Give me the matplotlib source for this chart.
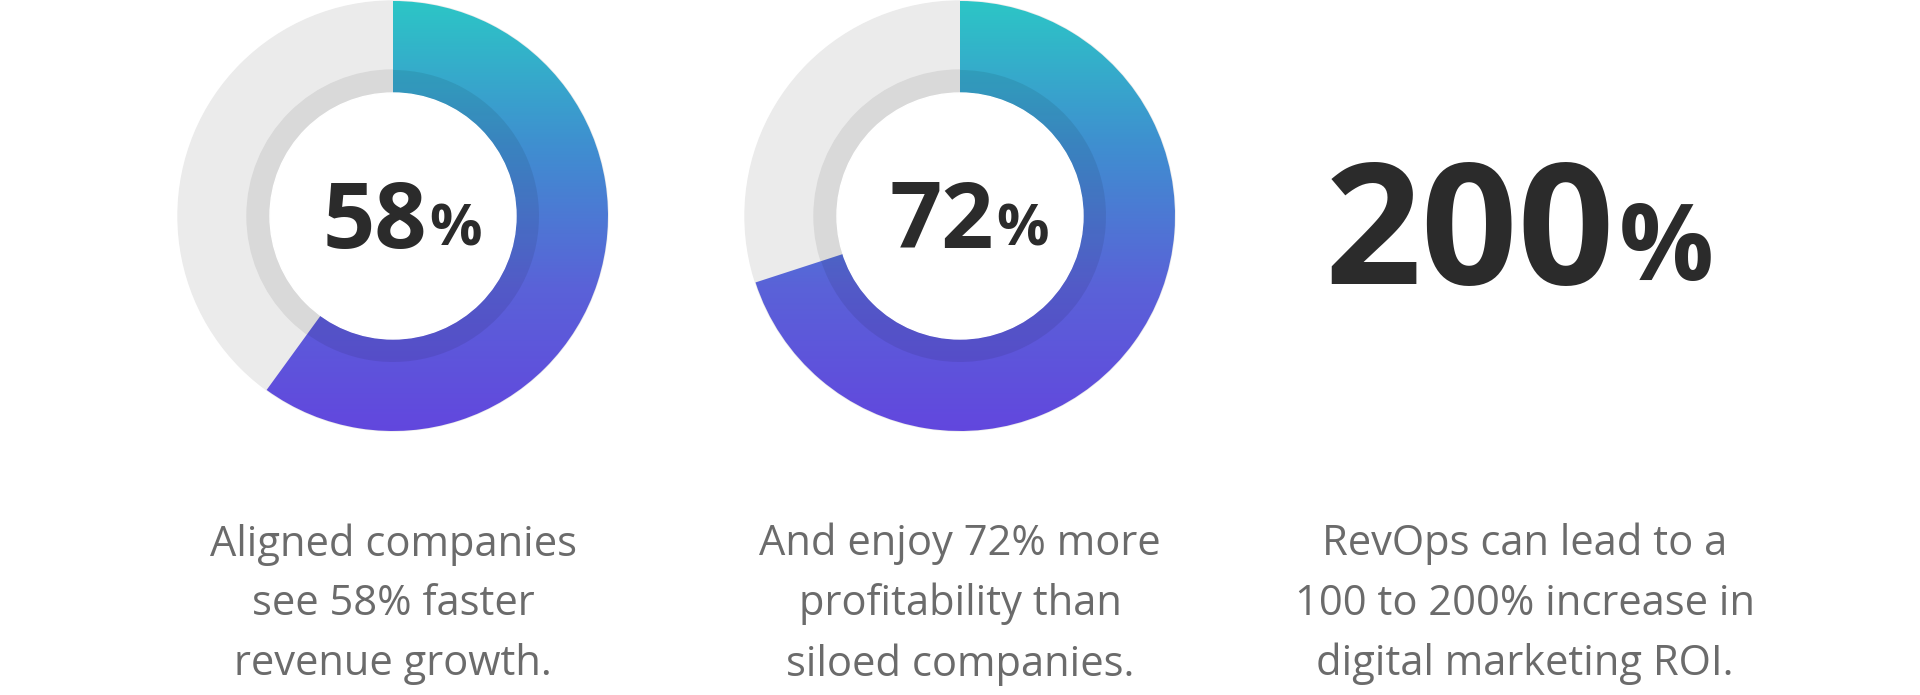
import numpy as np
import matplotlib.pyplot as plt
from matplotlib.patches import Wedge, Circle
from matplotlib.colors import LinearSegmentedColormap

# arc fill as drawn in the picture, and the printed labels
arc_values = [60, 70]
value_labels = ['58', '72']
big_label = '200'
captions = [
    'Aligned companies\nsee 58% faster\nrevenue growth.',
    'And enjoy 72% more\nprofitability than\nsiloed companies.',
    'RevOps can lead to a\n100 to 200% increase in\ndigital marketing ROI.',
]

W, H = 1920, 695
centers_x = [393, 960, 1525]
cy, r_out, r_mid, r_in = 216, 215, 146, 123

grad = LinearSegmentedColormap.from_list('g', ['#2cc6c6', '#3f8fd0', '#5a62d8', '#6247de'])

fig = plt.figure(figsize=(W / 100, H / 100), dpi=100)
ax = fig.add_axes([0, 0, 1, 1])
ax.set_xlim(0, W)
ax.set_ylim(H, 0)
ax.axis('off')

for cx, v, lab in zip(centers_x, arc_values, value_labels):
    ax.add_patch(Circle((cx, cy), r_out, color='#ebebeb', zorder=1))
    ax.add_patch(Circle((cx, cy), r_mid, color='#d9d9d9', zorder=1))
    # coloured arc, clockwise from 12 o'clock (y axis is inverted)
    theta1 = -90
    theta2 = -90 + 360 * v / 100
    wedge = Wedge((cx, cy), r_out, theta1, theta2, width=r_out - r_in,
                  facecolor='none', edgecolor='none', zorder=2)
    ax.add_patch(wedge)
    g = np.linspace(0, 1, 256).reshape(-1, 1)
    im = ax.imshow(g, cmap=grad, extent=[cx - r_out, cx + r_out, cy + r_out, cy - r_out],
                   aspect='auto', zorder=2, interpolation='bilinear')
    im.set_clip_path(wedge)
    shade = Wedge((cx, cy), r_mid, theta1, theta2, width=r_mid - r_in,
                  facecolor='#000000', alpha=0.08, edgecolor='none', zorder=3)
    ax.add_patch(shade)
    ax.add_patch(Circle((cx, cy), r_in, color='white', zorder=4))
    ax.text(cx + 34, cy + 8, lab, ha='right', va='center', fontsize=66, fontweight='bold',
            family='Open Sans', color='#2b2b2b', zorder=5)
    ax.text(cx + 36, cy + 14, '%', ha='left', va='center', fontsize=42, fontweight='bold',
            family='Open Sans', color='#2b2b2b', zorder=5)

cx = centers_x[2]
ax.text(cx + 90, 240, big_label, ha='right', va='center', fontsize=122, fontweight='bold',
        family='Open Sans', color='#2b2b2b')
ax.text(cx + 94, 252, '%', ha='left', va='center', fontsize=76, fontweight='bold',
        family='Open Sans', color='#2b2b2b')

for cx, cap in zip(centers_x, captions):
    ax.text(cx, 604, cap, ha='center', va='center', fontsize=30, family='Open Sans',
            color='#6b6b6b', linespacing=1.55)

fig.savefig('out.png', dpi=100, facecolor='white')
